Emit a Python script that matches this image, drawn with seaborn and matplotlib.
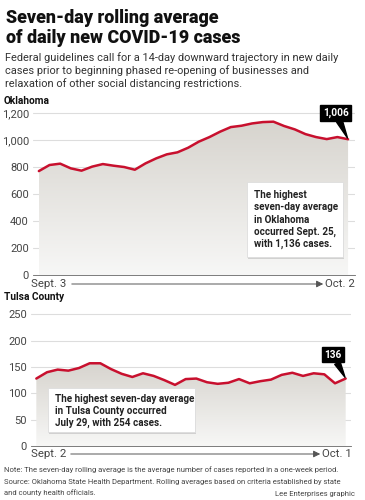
import matplotlib as mpl
import matplotlib.pyplot as plt
import numpy as np
import pandas as pd
import seaborn as sns
from matplotlib.colors import LinearSegmentedColormap
from matplotlib.patches import Rectangle

# seven-day rolling averages
ok_days = list(range(30))  # Sept. 3 .. Oct. 2
ok_values = [770, 815, 825, 790, 773, 803, 822, 810, 800, 780,
             827, 864, 894, 909, 943, 988, 1022, 1062, 1096, 1106,
             1123, 1133, 1136, 1104, 1079, 1044, 1022, 1007, 1022, 1006]
tulsa_days = list(range(30))  # Sept. 2 .. Oct. 1
tulsa_values = [128, 140, 145, 143, 148, 157, 157, 146, 137, 131,
                138, 133, 125, 116, 127, 128, 121, 118, 120, 127,
                119, 123, 126, 135, 139, 133, 138, 136, 119, 128]
ok_ticks = [0, 200, 400, 600, 800, 1000, 1200]
tulsa_ticks = [0, 50, 100, 150, 200, 250]

sns.set_style('white')
plt.rcParams['font.family'] = ['Roboto', 'DejaVu Sans']

RED = '#c8102e'
W, H = 365, 500
fig = plt.figure(figsize=(3.65, 5), dpi=100)


def box(l, t, r, b):
    return [l / W, 1 - b / H, (r - l) / W, (b - t) / H]


def ftext(x, y, s, **kw):
    fig.text(x / W, 1 - y / H, s, **kw)


cmap = LinearSegmentedColormap.from_list('fade', ['#f7f7f6', '#d7d4ce'])


def panel(rect, days, values, ticks, ymax, xlim):
    ax = fig.add_axes(rect)
    df = pd.DataFrame({'day': days, 'value': values})
    poly = ax.fill_between(df['day'], df['value'], 0, color='none', lw=0)
    grad = np.linspace(0, 1, 256).reshape(-1, 1)
    im = ax.imshow(grad, aspect='auto', cmap=cmap, origin='lower',
                   extent=[days[0], days[-1], 0, max(values)], zorder=1)
    im.set_clip_path(poly.get_paths()[0], transform=ax.transData)
    sns.lineplot(data=df, x='day', y='value', color=RED, lw=1.8, ax=ax, zorder=3)
    ax.set_xlim(*xlim)
    ax.set_ylim(0, ymax)
    ax.set_yticks(ticks)
    ax.set_yticklabels([f'{t:,}' for t in ticks], fontsize=8, color='#444')
    ax.yaxis.grid(True, color='#dddddd', lw=0.8)
    ax.set_axisbelow(True)
    ax.set_xticks(np.arange(-0.5, 30, 1))
    ax.set_xticklabels([])
    ax.tick_params(axis='x', direction='in', length=3, width=0.6, color='#666')
    ax.tick_params(axis='y', length=0, pad=3)
    for s in ['top', 'right', 'left']:
        ax.spines[s].set_visible(False)
    ax.spines['bottom'].set_color('#666')
    ax.spines['bottom'].set_linewidth(0.6)
    ax.set_xlabel('')
    ax.set_ylabel('')
    ax.patch.set_alpha(0)
    return ax


def callout(ax, x, y, label, dx, dy):
    ax.annotate(label, xy=(x, y), xytext=(dx, dy), textcoords='offset points',
                ha='center', va='center', color='white', fontsize=7.3,
                fontweight='bold', zorder=5,
                bbox=dict(boxstyle='square,pad=0.25', fc='black', ec='black'),
                arrowprops=dict(arrowstyle='wedge,tail_width=0.6,shrink_factor=0.5',
                                fc='black', ec='black', shrinkA=0, shrinkB=1))


def note_box(l, t, r, b, lines, x0, y0, step):
    fig.patches.append(Rectangle((l / W + 0.004, 1 - b / H - 0.004), (r - l) / W, (b - t) / H,
                                 transform=fig.transFigure, fc='#bbbbbb', ec='none',
                                 alpha=0.6, zorder=4))
    fig.patches.append(Rectangle((l / W, 1 - b / H), (r - l) / W, (b - t) / H,
                                 transform=fig.transFigure, fc='white', ec='#dddddd',
                                 lw=0.6, zorder=5))
    for i, s in enumerate(lines):
        ftext(x0, y0 + i * step, s, fontsize=7.1, fontweight='bold', color='#222',
              va='center', zorder=6)


def date_axis(y, left, right, l_x, r_x):
    ftext(l_x, y, left, fontsize=8.2, color='#444', va='center')
    ftext(r_x, y, right, fontsize=8.2, color='#444', va='center', ha='right')


# title block
ftext(6, 18, 'Seven-day rolling average', fontsize=12.9, fontweight='heavy', color='#111', va='center')
ftext(6, 38, 'of daily new COVID-19 cases', fontsize=12.9, fontweight='heavy', color='#111', va='center')
sub = ['Federal guidelines call for a 14-day downward trajectory in new daily',
       'cases prior to beginning phased re-opening of businesses and',
       'relaxation of other social distancing restrictions.']
for i, s in enumerate(sub):
    ftext(5, 58 + i * 13, s, fontsize=7.9, color='#333', va='center')

# Oklahoma panel
ftext(4, 101, 'Oklahoma', fontsize=7.3, fontweight='bold', color='#111', va='center')
ax1 = panel(box(33, 109, 355, 275), ok_days, ok_values, ok_ticks, 1230, (-0.55, 29.65))
callout(ax1, ok_days[-1], ok_values[-1], f'{ok_values[-1]:,}', -9, 19)
note_box(247, 182, 343, 257,
         ['The highest', 'seven-day average', 'in Oklahoma', 'occurred Sept. 25,', 'with 1,136 cases.'],
         254, 195, 12.3)
date_axis(284, 'Sept. 3', 'Oct. 2', 31, 355)
fig.add_artist(mpl.patches.FancyArrowPatch((69 / W, 1 - 284 / H), (326 / W, 1 - 284 / H),
                                           transform=fig.transFigure, arrowstyle='-|>,head_length=4,head_width=2',
                                           color='#555', lw=0.7))

# Tulsa County panel
ftext(4, 297, 'Tulsa County', fontsize=7.3, fontweight='bold', color='#111', va='center')
ax2 = panel(box(31, 309, 351, 446), tulsa_days, tulsa_values, tulsa_ticks, 260, (-0.5, 29.5))
callout(ax2, tulsa_days[-1], tulsa_values[-1], '136', -9, 17)
note_box(48, 388, 195, 432,
         ['The highest seven-day average', 'in Tulsa County occurred', 'July 29, with 254 cases.'],
         55, 399, 12)
date_axis(454, 'Sept. 2', 'Oct. 1', 31, 352)
fig.add_artist(mpl.patches.FancyArrowPatch((68 / W, 1 - 454 / H), (323 / W, 1 - 454 / H),
                                           transform=fig.transFigure, arrowstyle='-|>,head_length=4,head_width=2',
                                           color='#555', lw=0.7))

# footer
ftext(4, 470, 'Note: The seven-day rolling average is the average number of cases reported in a one-week period.',
      fontsize=5.5, color='#444', va='center')
ftext(4, 482, 'Source: Oklahoma State Health Department. Rolling averages based on criteria established by state',
      fontsize=5.5, color='#444', va='center')
ftext(4, 493, 'and county health officials.', fontsize=5.5, color='#444', va='center')
ftext(355, 494, 'Lee Enterprises graphic', fontsize=5.5, color='#444', va='center', ha='right')

plt.savefig('out.png', dpi=100, facecolor='w')
